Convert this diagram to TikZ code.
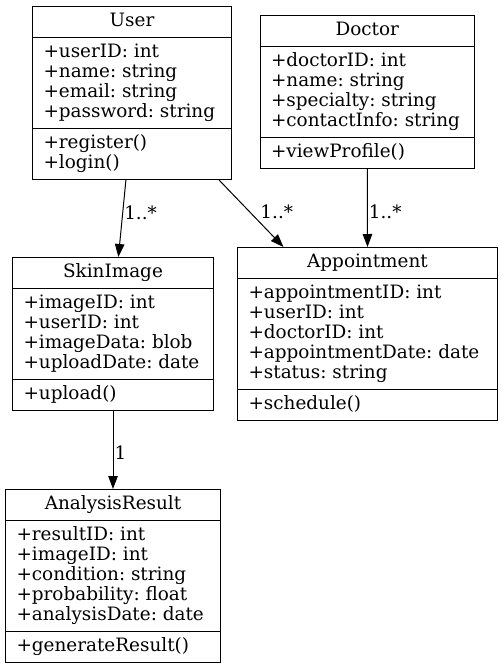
\documentclass[tikz,border=0pt]{standalone}
\usepackage{fontspec}
\setmainfont{DejaVu Serif}
\usetikzlibrary{shapes.multipart,arrows.meta}

\begin{document}
\begin{tikzpicture}[x=1pt,y=-1pt,line width=1pt,
	umlclass/.style={draw,rectangle split,rectangle split parts=3,rectangle split part align={center,left,left},anchor=north west,align=left,inner xsep=11pt,inner ysep=5pt,font=\fontsize{18.4}{20}\selectfont\frenchspacing},
	assoc/.style={-{Triangle[length=13pt,width=9.5pt]}},
	mult/.style={right,inner sep=1pt,font=\fontsize{18.4}{20}\selectfont}]
	\useasboundingbox (0,0) rectangle (502,667);
	
	\node[umlclass,minimum width=199pt] (user) at (32,6) {\strut User
		\nodepart{second}\strut+userID: int\\\strut+name: string\\\strut+email: string\\\strut+password: string
		\nodepart{third}\strut+register()\\\strut+login()};
	\node[umlclass,minimum width=214.5pt] (doctor) at (259.5,15) {\strut Doctor
		\nodepart{second}\strut+doctorID: int\\\strut+name: string\\\strut+specialty: string\\\strut+contactInfo: string
		\nodepart{third}\strut+viewProfile()};
	\node[umlclass,minimum width=201pt] (skin) at (12,257) {\strut SkinImage
		\nodepart{second}\strut+imageID: int\\\strut+userID: int\\\strut+imageData: blob\\\strut+uploadDate: date
		\nodepart{third}\strut+upload()};
	\node[umlclass,minimum width=260pt] (appt) at (237,247) {\strut Appointment
		\nodepart{second}\strut+appointmentID: int\\\strut+userID: int\\\strut+doctorID: int\\\strut+appointmentDate: date\\\strut+status: string
		\nodepart{third}\strut+schedule()};
	\node[umlclass,minimum width=215pt] (result) at (5,489) {\strut AnalysisResult
		\nodepart{second}\strut+resultID: int\\\strut+imageID: int\\\strut+condition: string\\\strut+probability: float\\\strut+analysisDate: date
		\nodepart{third}\strut+generateResult()};
	
	\draw[assoc] (user.-94) -- (skin.86) node[mult,pos=0.42] (m1) {1..*};
	\draw[assoc] (user.-45.8) -- (appt.134.3) node[mult,pos=0.48,xshift=9pt] (m2) {1..*};
	\draw[assoc] (doctor.south) -- (appt.north) node[mult,pos=0.55] (m3) {1..*};
	\draw[assoc] (skin.south) -- (result.north) node[mult,pos=0.54] (m4) {1};
\end{tikzpicture}
\end{document}
